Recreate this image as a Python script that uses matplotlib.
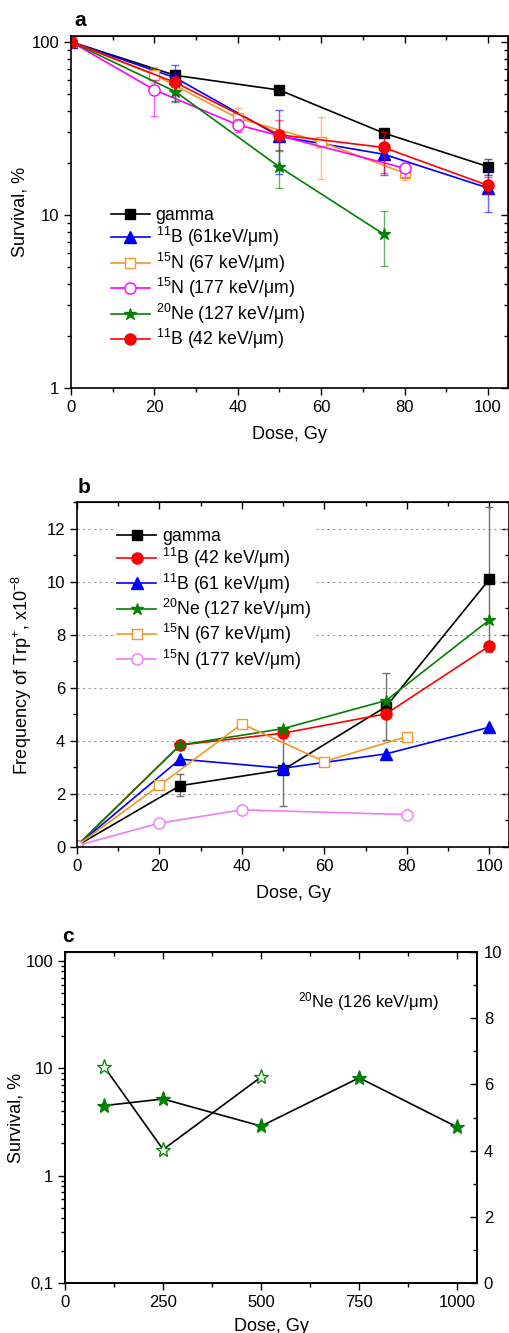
import matplotlib
matplotlib.use("Agg")
import matplotlib.pyplot as plt
from matplotlib.ticker import MultipleLocator, LogLocator, NullFormatter, FixedLocator, FixedFormatter
import numpy as np

plt.rcParams['font.family'] = ['Liberation Sans', 'DejaVu Sans']
plt.rcParams['mathtext.fontset'] = 'custom'
plt.rcParams['mathtext.rm'] = 'Liberation Sans'
plt.rcParams['mathtext.it'] = 'Liberation Sans:italic'
plt.rcParams['mathtext.bf'] = 'Liberation Sans:bold'

# ---------------- Panel a data (survival, %) ----------------
a_gamma_x = [0, 25, 50, 75, 100]
a_gamma_y = [100, 64.0, 52.6, 29.7, 19.0]
a_gamma_lo = [100, 60.0, 50.5, 28.3, 17.0]
a_gamma_hi = [100, 68.0, 55.0, 31.2, 21.1]

a_b61_x = [0, 25, 50, 75, 100]
a_b61_y = [100, 62.0, 28.4, 22.4, 14.3]
a_b61_lo = [100, 45.2, 17.3, 17.0, 10.4]
a_b61_hi = [100, 73.0, 40.4, 28.0, 18.5]

a_n67_x = [0, 20, 40, 60, 80]
a_n67_y = [100, 64.5, 36.2, 26.4, 17.4]
a_n67_lo = [100, 58.0, 32.0, 16.2, 16.0]
a_n67_hi = [100, 71.3, 41.2, 36.8, 19.0]

a_n177_x = [0, 20, 40, 80]
a_n177_y = [100, 52.8, 33.1, 18.6]
a_n177_lo = [100, 37.3, 30.0, 16.5]
a_n177_hi = [100, 60.0, 36.0, 20.5]

a_ne127_x = [0, 25, 50, 75]
a_ne127_y = [100, 51.6, 18.9, 7.73]
a_ne127_lo = [100, 45.0, 14.2, 5.09]
a_ne127_hi = [100, 57.0, 23.8, 10.5]

a_b42_x = [0, 25, 50, 75, 100]
a_b42_y = [100, 58.2, 29.0, 24.5, 14.8]
a_b42_lo = [100, 55.0, 23.4, 17.4, 13.2]
a_b42_hi = [100, 61.0, 35.3, 30.0, 16.5]

# ---------------- Panel b data (frequency of Trp+, x1e-8) ----------------
b_gamma_x = [0, 25, 50, 75, 100]
b_gamma_y = [0.05, 2.31, 2.91, 5.29, 10.08]
b_gamma_lo = [0.05, 1.91, 1.55, 4.04, 7.35]
b_gamma_hi = [0.05, 2.76, 4.27, 6.55, 12.8]

b_b42_x = [0, 25, 50, 75, 100]
b_b42_y = [0.05, 3.84, 4.29, 5.02, 7.57]

b_b61_x = [0, 25, 50, 75, 100]
b_b61_y = [0.05, 3.31, 2.97, 3.51, 4.51]

b_ne127_x = [0, 25, 50, 75, 100]
b_ne127_y = [0.05, 3.84, 4.46, 5.52, 8.55]

b_n67_x = [0, 20, 40, 60, 80]
b_n67_y = [0.05, 2.32, 4.64, 3.22, 4.16]

b_n177_x = [0, 20, 40, 80]
b_n177_y = [0.05, 0.90, 1.40, 1.22]

# ---------------- Panel c data ----------------
c_surv_x = [100, 250, 500]
c_surv_y = [10.3, 1.75, 8.3]
c_freq_x = [100, 250, 500, 750, 1000]
c_freq_y = [5.36, 5.56, 4.74, 6.2, 4.71]

labels_a = ['gamma', r'$^{11}$B (61keV/μm)', r'$^{15}$N (67 keV/μm)',
            r'$^{15}$N (177 keV/μm)', r'$^{20}$Ne (127 keV/μm)', r'$^{11}$B (42 keV/μm)']
labels_b = ['gamma', r'$^{11}$B (42 keV/μm)', r'$^{11}$B (61 keV/μm)',
            r'$^{20}$Ne (127 keV/μm)', r'$^{15}$N (67 keV/μm)', r'$^{15}$N (177 keV/μm)']

BLACK = '#000000'
BLUE = '#0000FF'
ORANGE = '#F0962A'
MAGENTA = '#FF00FF'
GREEN = '#008000'
RED = '#FF0000'
PINK = '#F07CF0'

fig = plt.figure(figsize=(5.10, 13.33), dpi=100)

TICKFS = 12
LABELFS = 13
LEGFS = 12.7


def frame_ticks(ax, xmaj, xmin):
    ax.tick_params(axis='both', which='both', direction='out', labelsize=TICKFS)
    ax.tick_params(which='major', length=5, width=1)
    ax.tick_params(which='minor', length=3, width=1)
    for s in ax.spines.values():
        s.set_linewidth(1.2)
    sx = ax.secondary_xaxis('top')
    sx.xaxis.set_major_locator(MultipleLocator(xmaj))
    sx.xaxis.set_minor_locator(MultipleLocator(xmin))
    sx.tick_params(which='both', direction='in', labeltop=False)
    sx.tick_params(which='major', length=5, width=1)
    sx.tick_params(which='minor', length=3, width=1)
    return sx


# ================= Panel a =================
axa = fig.add_axes([0.139, 0.709, 0.857, 0.264])
series_a = [
    (a_gamma_x, a_gamma_y, a_gamma_lo, a_gamma_hi, BLACK, 's', 'full', 6.5),
    (a_b61_x, a_b61_y, a_b61_lo, a_b61_hi, BLUE, '^', 'full', 8),
    (a_n67_x, a_n67_y, a_n67_lo, a_n67_hi, ORANGE, 's', 'none', 7),
    (a_n177_x, a_n177_y, a_n177_lo, a_n177_hi, MAGENTA, 'o', 'none', 8),
    (a_ne127_x, a_ne127_y, a_ne127_lo, a_ne127_hi, GREEN, '*', 'full', 9),
    (a_b42_x, a_b42_y, a_b42_lo, a_b42_hi, RED, 'o', 'full', 8),
]
handles = []
for (x, y, lo, hi, col, mk, fill, ms), lab in zip(series_a, labels_a):
    y = np.array(y)
    yerr = [y - np.array(lo), np.array(hi) - y]
    axa.errorbar(x, y, yerr=yerr, fmt='none', ecolor=col, alpha=0.6,
                 elinewidth=1, capsize=3, capthick=1)
    h, = axa.plot(x, y, color=col, lw=1.2, marker=mk, ms=ms,
                  mfc=(col if fill == 'full' else 'white'), mec=col, mew=1, label=lab)
    handles.append(h)
axa.set_yscale('log')
axa.set_xlim(0, 104.8)
axa.set_ylim(1, 108)
axa.xaxis.set_major_locator(MultipleLocator(20))
axa.xaxis.set_minor_locator(MultipleLocator(10))
axa.yaxis.set_major_locator(FixedLocator([1, 10, 100]))
axa.yaxis.set_major_formatter(FixedFormatter(['1', '10', '100']))
axa.yaxis.set_minor_locator(LogLocator(base=10, subs=np.arange(2, 10)))
axa.yaxis.set_minor_formatter(NullFormatter())
frame_ticks(axa, 20, 10)
sya = axa.secondary_yaxis('right')
sya.tick_params(which='both', direction='in', labelright=False)
sya.tick_params(which='major', length=5, width=1)
sya.tick_params(which='minor', length=3, width=1)
axa.set_xlabel('Dose, Gy', fontsize=LABELFS, labelpad=8)
axa.set_ylabel('Survival, %', fontsize=LABELFS, labelpad=2)
axa.legend(handles=handles, loc='upper left', bbox_to_anchor=(0.075, 0.535),
           frameon=False, fontsize=LEGFS, handlelength=2.2, handletextpad=0.35,
           labelspacing=0.08, borderaxespad=0, numpoints=1)
fig.text(80 / 510, 1 - 20 / 1333, 'a', fontsize=15, fontweight='bold', va='center', ha='center')

# ================= Panel b =================
axb = fig.add_axes([0.151, 0.3646, 0.847, 0.2588])
axb.grid(axis='y', which='major', linestyle=(0, (2, 3)), color='#9a9a9a', lw=0.8)
axb.set_axisbelow(True)
bg = np.array(b_gamma_y)
axb.errorbar(b_gamma_x, bg, yerr=[bg - np.array(b_gamma_lo), np.array(b_gamma_hi) - bg],
             fmt='none', ecolor='#707070', elinewidth=1, capsize=3, capthick=1)
series_b = [
    (b_gamma_x, b_gamma_y, BLACK, 's', 'full', 7),
    (b_b42_x, b_b42_y, RED, 'o', 'full', 8),
    (b_b61_x, b_b61_y, BLUE, '^', 'full', 8),
    (b_ne127_x, b_ne127_y, GREEN, '*', 'full', 9),
    (b_n67_x, b_n67_y, ORANGE, 's', 'none', 7),
    (b_n177_x, b_n177_y, PINK, 'o', 'none', 8),
]
handles_b = []
for (x, y, col, mk, fill, ms), lab in zip(series_b, labels_b):
    h, = axb.plot(x, y, color=col, lw=1.2, marker=mk, ms=ms,
                  mfc=(col if fill == 'full' else 'white'), mec=col, mew=1, label=lab)
    handles_b.append(h)
axb.set_xlim(0, 104.8)
axb.set_ylim(0, 13)
axb.xaxis.set_major_locator(MultipleLocator(20))
axb.xaxis.set_minor_locator(MultipleLocator(10))
axb.yaxis.set_major_locator(MultipleLocator(2))
axb.yaxis.set_minor_locator(MultipleLocator(1))
frame_ticks(axb, 20, 10)
syb = axb.secondary_yaxis('right')
syb.yaxis.set_major_locator(MultipleLocator(2))
syb.yaxis.set_minor_locator(MultipleLocator(1))
syb.tick_params(which='both', direction='in', labelright=False)
syb.tick_params(which='major', length=5, width=1)
syb.tick_params(which='minor', length=3, width=1)
axb.set_xlabel('Dose, Gy', fontsize=LABELFS, labelpad=8)
axb.set_ylabel(r'Frequency of Trp$^{+}$, x10$^{-8}$', fontsize=LABELFS, labelpad=9)
legb = axb.legend(handles=handles_b, loc='upper left', bbox_to_anchor=(0.085, 0.935),
                  frameon=True, fontsize=LEGFS, handlelength=2.2, handletextpad=0.35,
                  labelspacing=0.07, borderaxespad=0, borderpad=0.2, numpoints=1)
legb.get_frame().set_edgecolor('none')
legb.get_frame().set_facecolor('white')
legb.get_frame().set_alpha(1)
fig.text(84 / 510, 1 - 487 / 1333, 'b', fontsize=15, fontweight='bold', va='center', ha='center')

# ================= Panel c =================
axc = fig.add_axes([0.1275, 0.0375, 0.8075, 0.2483])
axc.set_yscale('log')
axc.set_xlim(0, 1050)
axc.set_ylim(0.1, 121)
axc.plot(c_surv_x, c_surv_y, color=BLACK, lw=1.2, marker='*', ms=11,
         mfc='white', mec=GREEN, mew=0.9)
axc.xaxis.set_major_locator(MultipleLocator(250))
axc.xaxis.set_minor_locator(MultipleLocator(125))
axc.yaxis.set_major_locator(FixedLocator([0.1, 1, 10, 100]))
axc.yaxis.set_major_formatter(FixedFormatter(['0,1', '1', '10', '100']))
axc.yaxis.set_minor_locator(LogLocator(base=10, subs=np.arange(2, 10)))
axc.yaxis.set_minor_formatter(NullFormatter())
frame_ticks(axc, 250, 125)
axc.set_xlabel('Dose, Gy', fontsize=LABELFS, labelpad=6)
axc.set_ylabel('Survival, %', fontsize=LABELFS, labelpad=1)
axc2 = axc.twinx()
axc2.set_ylim(0, 10)
axc2.plot(c_freq_x, c_freq_y, color=BLACK, lw=1.2, marker='*', ms=11,
          mfc=GREEN, mec=GREEN, mew=0.9)
axc2.yaxis.set_major_locator(MultipleLocator(2))
axc2.yaxis.set_minor_locator(MultipleLocator(1))
axc2.tick_params(which='both', direction='in', labelsize=TICKFS)
axc2.tick_params(which='major', length=5, width=1, pad=5)
axc2.tick_params(which='minor', length=3, width=1)
for s in axc2.spines.values():
    s.set_linewidth(1.2)
axc.text(0.566, 0.85, r'$^{20}$Ne (126 keV/μm)', transform=axc.transAxes,
         fontsize=12, va='center', ha='left')
fig.text(68 / 510, 1 - 937 / 1333, 'c', fontsize=15, fontweight='bold', va='center', ha='center')

fig.savefig('out.png', dpi=100)
